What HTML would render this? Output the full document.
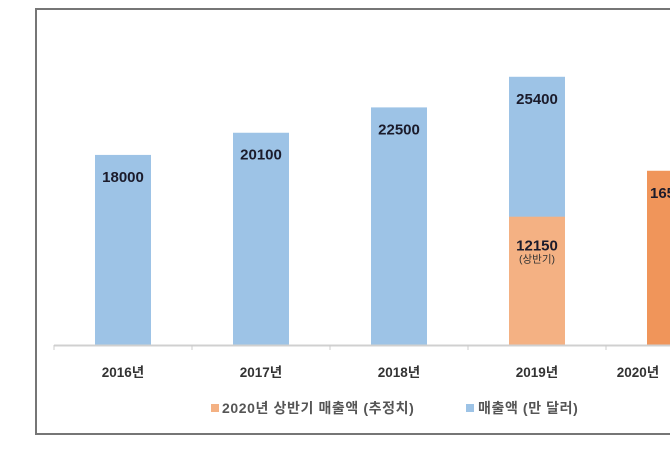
<!DOCTYPE html>
<html><head><meta charset="utf-8"><style>
html,body{margin:0;padding:0;background:#fff;}
body{width:670px;height:469px;overflow:hidden;position:relative;font-family:"Liberation Sans","Noto Sans CJK KR",sans-serif;}
svg text{font-family:"Liberation Sans","Noto Sans CJK KR",sans-serif;}
</style></head><body>
<svg id="chart" width="670" height="469" xmlns="http://www.w3.org/2000/svg">
<rect x="36" y="9" width="650" height="425" fill="#fff" stroke="#767676" stroke-width="2"/>
<g id="plot"></g>
<g>
<rect x="211" y="404" width="8" height="8" fill="#f4b183"/>
<text x="222" y="413" font-size="14" font-weight="bold" letter-spacing="0.6" fill="#555">2020년 상반기 매출액 (추정치)</text>
<rect x="466" y="404" width="8" height="8" fill="#9dc3e6"/>
<text x="478" y="413" font-size="14" font-weight="bold" letter-spacing="0.6" fill="#555">매출액 (만 달러)</text>
</g>
</svg>
<script>
const categories=["2016년","2017년","2018년","2019년","2020년"];
const totalValues=[18000,20100,22500,25400,16500];
const halfValues=[null,null,null,12150,null];
const totalLabels=["18000","20100","22500","25400","16500"];
const halfLabel="12150";
const ns="http://www.w3.org/2000/svg";
const g=document.getElementById("plot");
const baseY=345,k=0.01056,step=138,x0=54,bw=56;
const y=v=>baseY-v*k;
const xc=i=>x0+step*i+step/2;
function mk(t,a){const e=document.createElementNS(ns,t);for(const key in a)e.setAttribute(key,a[key]);g.appendChild(e);return e;}
categories.forEach((c,i)=>{
  const isEst=i===categories.length-1;
  const r=mk("rect",{x:xc(i)-bw/2,y:y(totalValues[i]),width:bw,height:baseY-y(totalValues[i]),fill:isEst?"#f0955a":"#9dc3e6"});
  
  
  const t=mk("text",{x:isEst?xc(i)-bw/2+3:xc(i),y:y(totalValues[i])+27,"font-size":"15","font-weight":"bold",fill:"#1b1b2b","text-anchor":isEst?"start":"middle"});
  t.textContent=totalLabels[i];
  
  
  if(halfValues[i]!=null){
    const h=mk("rect",{x:xc(i)-bw/2,y:y(halfValues[i]),width:bw,height:baseY-y(halfValues[i]),fill:"#f4b183"});
    
    
    const ht=mk("text",{x:xc(i),y:y(halfValues[i])+34,"font-size":"15","font-weight":"bold",fill:"#1b1b2b","text-anchor":"middle"});
    ht.textContent=halfLabel;
    
    
    const hs=mk("text",{x:xc(i),y:y(halfValues[i])+46,"font-size":"10.5",fill:"#333","text-anchor":"middle"});
    hs.textContent="(상반기)";
    
    
  }
  const xl=mk("text",{x:isEst?xc(i)-37:xc(i),y:377,"font-size":"13.5","font-weight":"bold",fill:"#333","text-anchor":"middle"});
  xl.textContent=c;
  
  
});
const ax=mk("line",{x1:x0,x2:700,y1:baseY+0.5,y2:baseY+0.5,stroke:"#d0d0d0","stroke-width":"2"});


for(let i=0;i<=categories.length;i++){
  const tk=mk("line",{x1:x0+step*i,x2:x0+step*i,y1:baseY,y2:baseY+5,stroke:"#ccc"});
  
  
}
</script>
</body></html>
